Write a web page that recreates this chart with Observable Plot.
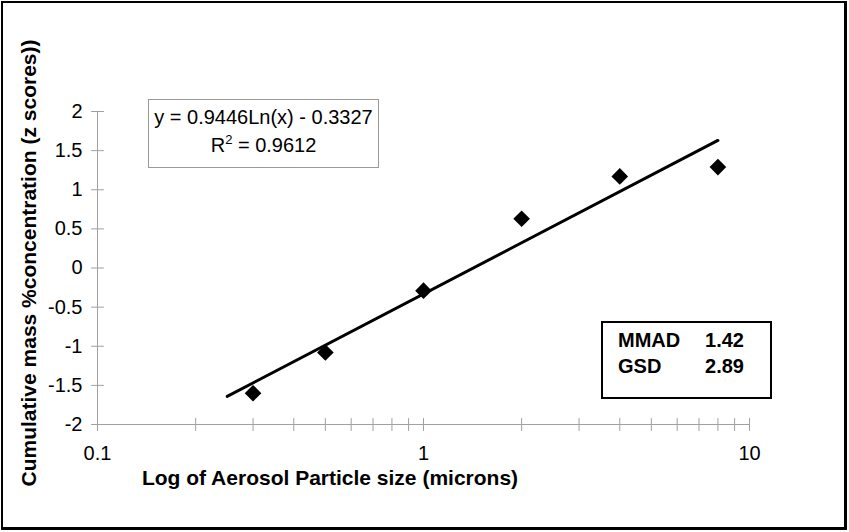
<!DOCTYPE html>
<html>
<head>
<meta charset="utf-8">
<script src="https://cdn.jsdelivr.net/npm/d3@7"></script>
<script src="https://cdn.jsdelivr.net/npm/@observablehq/plot@0.6"></script>
<style>
  html, body { margin: 0; padding: 0; background: #fff; }
  #wrap { position: relative; width: 849px; height: 532px; font-family: "Liberation Sans", Arial, sans-serif; }
  #frame { position: absolute; left: 1px; top: 1px; width: 846px; height: 529px; box-sizing: border-box;
           border-left: 2px solid #000; border-top: 2px solid #000; border-right: 3px solid #000; border-bottom: 3px solid #000; pointer-events: none; }
  .ylab { position: absolute; left: 28px; top: 263px; transform: translate(-50%, -50%) rotate(-90deg); white-space: nowrap;
          font-weight: bold; font-size: 21px; line-height: 1; color: #000; }
  .xlab { position: absolute; left: 330px; top: 477px; transform: translate(-50%, -50%); white-space: nowrap;
          font-weight: bold; font-size: 21px; line-height: 1; color: #000; }
  .eq { position: absolute; left: 148px; top: 99px; width: 231px; height: 69px; box-sizing: border-box; border: 1px solid #999;
        font-size: 20px; text-align: center; color: #000; }
  .eq div { position: absolute; left: 0; right: 0; line-height: 23px; }
  .stats { position: absolute; left: 601px; top: 321px; width: 171px; height: 78px; box-sizing: border-box; border: 2px solid #000;
           font-weight: bold; font-size: 20px; color: #000; }
  .stats .row { position: absolute; left: 15px; width: 126px; line-height: 23px; }
  .stats .row span:last-child { position: absolute; right: 0; }
</style>
</head>
<body>
<div id="wrap">
  <div id="chart"></div>
  <div class="ylab">Cumulative mass %concentration (z scores))</div>
  <div class="xlab">Log of Aerosol Particle size (microns)</div>
  <div class="eq"><div style="top:6px">y = 0.9446Ln(x) - 0.3327</div><div style="top:34px">R<sup style="font-size:13px;vertical-align:8px;line-height:0">2</sup> = 0.9612</div></div>
  <div class="stats"><div class="row" style="top:6px"><span>MMAD</span><span>1.42</span></div><div class="row" style="top:32px"><span>GSD</span><span>2.89</span></div></div>
  <div id="frame"></div>
</div>
<script>
// Data
const particleSize = [0.3, 0.5, 1, 2, 4, 8];
const zScore = [-1.60, -1.08, -0.29, 0.63, 1.17, 1.29];
// Trend line endpoints (y = 0.9446 ln(x) - 0.3327)
const trendX = [0.25, 8];
const trendY = [-1.64, 1.63];
// Axis ticks
const yTicks = [-2, -1.5, -1, -0.5, 0, 0.5, 1, 1.5, 2];
const xMajor = [0.1, 1, 10];
const xMinor = [0.2, 0.3, 0.4, 0.5, 0.6, 0.7, 0.8, 0.9, 2, 3, 4, 5, 6, 7, 8, 9];

const points = particleSize.map((x, i) => ({x, y: zScore[i]}));
const trend = trendX.map((x, i) => ({x, y: trendY[i]}));
const allX = xMajor.concat(xMinor);

const lineShape = { draw(context, l) { context.moveTo(0, 0); context.lineTo(0, -l); } };
const axisGray = "#a0a0a0";

const chart = Plot.plot({
  width: 849,
  height: 532,
  marginLeft: 97,
  marginRight: 100,
  marginTop: 111,
  marginBottom: 108,
  style: { fontFamily: "Liberation Sans, Arial, sans-serif", fontSize: "20px", color: "#000", background: "transparent" },
  x: { type: "log", domain: [0.1, 10] },
  y: { domain: [-2, 2] },
  marks: [
    Plot.ruleY([-2], { stroke: axisGray, strokeWidth: 1 }),
    Plot.ruleX([0.1], { y1: -2, y2: 2, stroke: axisGray, strokeWidth: 1 }),
    Plot.vector(yTicks, { x: () => 0.1, y: d => d, length: 12, rotate: 90, anchor: "middle", shape: lineShape, stroke: axisGray, strokeWidth: 1 }),
    Plot.vector(allX, { x: d => d, y: () => -2, length: 12, rotate: 0, anchor: "middle", shape: lineShape, stroke: axisGray, strokeWidth: 1 }),
    Plot.axisY(yTicks, { tickSize: 0, tickPadding: 15, tickFormat: d => String(d), fontSize: 20, label: null }),
    Plot.axisX(xMajor, { tickSize: 0, tickPadding: 21, tickFormat: d => String(d), fontSize: 20, label: null }),
    Plot.line(trend, { x: "x", y: "y", stroke: "#000", strokeWidth: 3, strokeLinecap: "round" }),
    Plot.dot(points, { x: "x", y: "y", symbol: "diamond2", r: 7.5, fill: "#000", stroke: "none" })
  ]
});
document.getElementById("chart").appendChild(chart);
</script>
</body>
</html>
